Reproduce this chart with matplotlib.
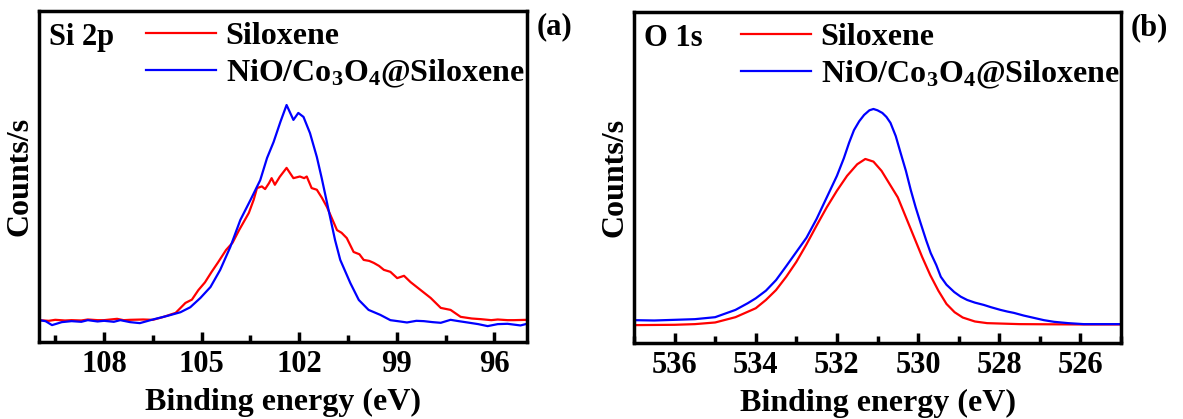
import numpy as np
import matplotlib
matplotlib.use('Agg')
import matplotlib.pyplot as plt
from matplotlib.ticker import MultipleLocator

plt.rcParams['font.family'] = 'Liberation Serif'
plt.rcParams['font.weight'] = 'bold'
plt.rcParams['mathtext.fontset'] = 'custom'
plt.rcParams['mathtext.rm'] = 'Liberation Serif:bold'
plt.rcParams['mathtext.default'] = 'rm'

labels = ['Siloxene', 'NiO/Co$_3$O$_4$@Siloxene']

# Si 2p (normalised counts)
si_red_x = [110.0, 109.7, 109.5, 109.2, 109.0, 108.7, 108.5, 108.2, 108.0, 107.6, 107.4, 107.2,
            106.8, 106.5, 106.2, 105.8, 105.5, 105.3, 105.1, 104.9, 104.7, 104.5, 104.25,
            104.05, 103.85, 103.55, 103.4, 103.3, 103.15, 103.05, 102.93, 102.85, 102.75,
            102.6, 102.39, 102.18, 101.98, 101.85, 101.77, 101.62, 101.46, 101.3, 101.15,
            100.84, 100.7, 100.54, 100.33, 100.15, 100.02, 99.85, 99.71, 99.55, 99.4, 99.2,
            98.99, 98.78, 98.58, 98.27, 97.96, 97.65, 97.35, 97.04, 96.7, 96.42, 96.1, 95.9,
            95.6, 95.4, 95.0]
si_red_y = [0.066, 0.064, 0.067, 0.065, 0.066, 0.065, 0.068, 0.066, 0.066, 0.070, 0.066, 0.067,
            0.068, 0.067, 0.075, 0.088, 0.118, 0.128, 0.157, 0.180, 0.211, 0.240, 0.278,
            0.300, 0.338, 0.390, 0.430, 0.465, 0.470, 0.462, 0.480, 0.495, 0.475,
            0.499, 0.526, 0.495, 0.500, 0.495, 0.500, 0.465, 0.460, 0.435, 0.408,
            0.338, 0.330, 0.314, 0.272, 0.265, 0.248, 0.245, 0.239, 0.230, 0.218, 0.212,
            0.193, 0.200, 0.181, 0.157, 0.133, 0.103, 0.097, 0.076, 0.071, 0.069, 0.066, 0.068,
            0.066, 0.066, 0.067]

si_blue_x = [110.0, 109.8, 109.6, 109.3, 109.0, 108.7, 108.5, 108.2, 108.0, 107.7, 107.5,
             107.2, 106.9, 106.5, 106.05, 105.65, 105.35, 105.04, 104.73, 104.43, 104.12,
             103.81, 103.5, 103.2, 102.99, 102.79, 102.58, 102.39, 102.18, 102.03, 101.87,
             101.67, 101.46, 101.31, 101.1, 100.9, 100.74, 100.43, 100.17, 99.87, 99.51, 99.2,
             98.9, 98.69, 98.4, 98.17, 97.9, 97.65, 97.35, 97.1, 96.83, 96.5, 96.21, 95.9,
             95.6, 95.2, 95.0]
si_blue_y = [0.066, 0.063, 0.051, 0.060, 0.063, 0.061, 0.066, 0.062, 0.064, 0.061, 0.066,
             0.060, 0.057, 0.068, 0.079, 0.090, 0.105, 0.133, 0.166, 0.218, 0.287,
             0.369, 0.429, 0.489, 0.556, 0.604, 0.665, 0.716, 0.671, 0.692, 0.680,
             0.631, 0.559, 0.495, 0.399, 0.308, 0.248, 0.178, 0.127, 0.097, 0.082, 0.066,
             0.062, 0.059, 0.064, 0.063, 0.060, 0.058, 0.067, 0.063, 0.059, 0.054,
             0.048, 0.054, 0.055, 0.050, 0.055]

# O 1s
o_red_x = [537.0, 536.0, 535.5, 535.0, 534.5, 534.0, 533.75, 533.5, 533.25, 533.0, 532.75,
           532.5, 532.25, 532.0, 531.75, 531.5, 531.3, 531.1, 530.9, 530.7, 530.5, 530.3,
           530.1, 529.9, 529.7, 529.5, 529.3, 529.1, 528.9, 528.6, 528.3, 527.5, 526.0, 525.0]
o_red_y = [0.054, 0.055, 0.057, 0.062, 0.078, 0.105, 0.130, 0.160, 0.200, 0.245, 0.298,
           0.355, 0.410, 0.460, 0.505, 0.540, 0.556, 0.548, 0.520, 0.480, 0.440, 0.380,
           0.320, 0.260, 0.205, 0.158, 0.118, 0.093, 0.077, 0.065, 0.060, 0.057, 0.056, 0.056]

o_blue_x = [537.0, 536.5, 536.0, 535.5, 535.0, 534.5, 534.2, 534.0, 533.75, 533.5, 533.25,
            533.0, 532.75, 532.5, 532.25, 532.0, 531.83, 531.7, 531.58, 531.45, 531.33,
            531.2, 531.1, 531.0, 530.88, 530.78, 530.68, 530.55, 530.43, 530.3, 530.18,
            530.06, 529.94, 529.8, 529.69, 529.55, 529.44, 529.3, 529.11, 528.95, 528.79,
            528.6, 528.38, 528.2, 527.97, 527.8, 527.64, 527.4, 527.15, 526.9, 526.65,
            526.3, 525.92, 525.5, 525.0]
o_blue_y = [0.069, 0.068, 0.070, 0.072, 0.078, 0.100, 0.120, 0.135, 0.158, 0.190, 0.232,
            0.275, 0.318, 0.375, 0.440, 0.505, 0.558, 0.605, 0.643, 0.670, 0.689,
            0.703, 0.707, 0.703, 0.695, 0.683, 0.665, 0.625, 0.574, 0.520, 0.462,
            0.410, 0.363, 0.310, 0.272, 0.235, 0.200, 0.176, 0.154, 0.140, 0.130,
            0.122, 0.115, 0.108, 0.100, 0.095, 0.091, 0.083, 0.076, 0.069, 0.064,
            0.060, 0.057, 0.057, 0.057]

fig = plt.figure(figsize=(11.83, 4.19), dpi=100)
ax1 = fig.add_axes([39/1183, 1-342/419, 488/1183, 331/419])
ax2 = fig.add_axes([634/1183, 1-343/419, 487/1183, 331/419])

panels = [
    (ax1, si_red_x, si_red_y, si_blue_x, si_blue_y, (110, 95), 3, 'Si 2p', '(a)'),
    (ax2, o_red_x, o_red_y, o_blue_x, o_blue_y, (537, 525), 2, 'O 1s', '(b)'),
]

for ax, rx, ry, bx, by, xl, step, core, tag in panels:
    ax.plot(rx, ry, color='#ff0000', lw=1.6, label=labels[0])
    ax.plot(bx, by, color='#0000ff', lw=1.6, label=labels[1])
    ax.set_xlim(xl)
    ax.set_ylim(0, 1)
    ax.xaxis.set_major_locator(MultipleLocator(step))
    ax.xaxis.set_minor_locator(MultipleLocator(step / 2))
    ax.tick_params(axis='x', which='both', direction='in', top=False, width=2.5,
                   labelsize=22, pad=6)
    ax.tick_params(axis='x', which='major', length=7)
    ax.tick_params(axis='x', which='minor', length=5)
    ax.tick_params(axis='y', left=False, labelleft=False)
    for s in ax.spines.values():
        s.set_linewidth(2.5)
    ax.set_xlabel('Binding energy (eV)', fontsize=23, fontweight='bold', labelpad=6)
    ax.set_ylabel('Counts/s', fontsize=23, fontweight='bold', labelpad=3)
    ax.text(0.02, 0.897, core, transform=ax.transAxes, fontsize=22, fontweight='bold')
    ax.text(1.02, 0.93, tag, transform=ax.transAxes, fontsize=22, fontweight='bold')
    ax.legend(loc='upper left', bbox_to_anchor=(0.219, 0.967), frameon=False, fontsize=23,
              handlelength=2.2, handletextpad=0.3, labelspacing=0.2, borderpad=0,
              borderaxespad=0)

fig.savefig('out.png', dpi=100)
